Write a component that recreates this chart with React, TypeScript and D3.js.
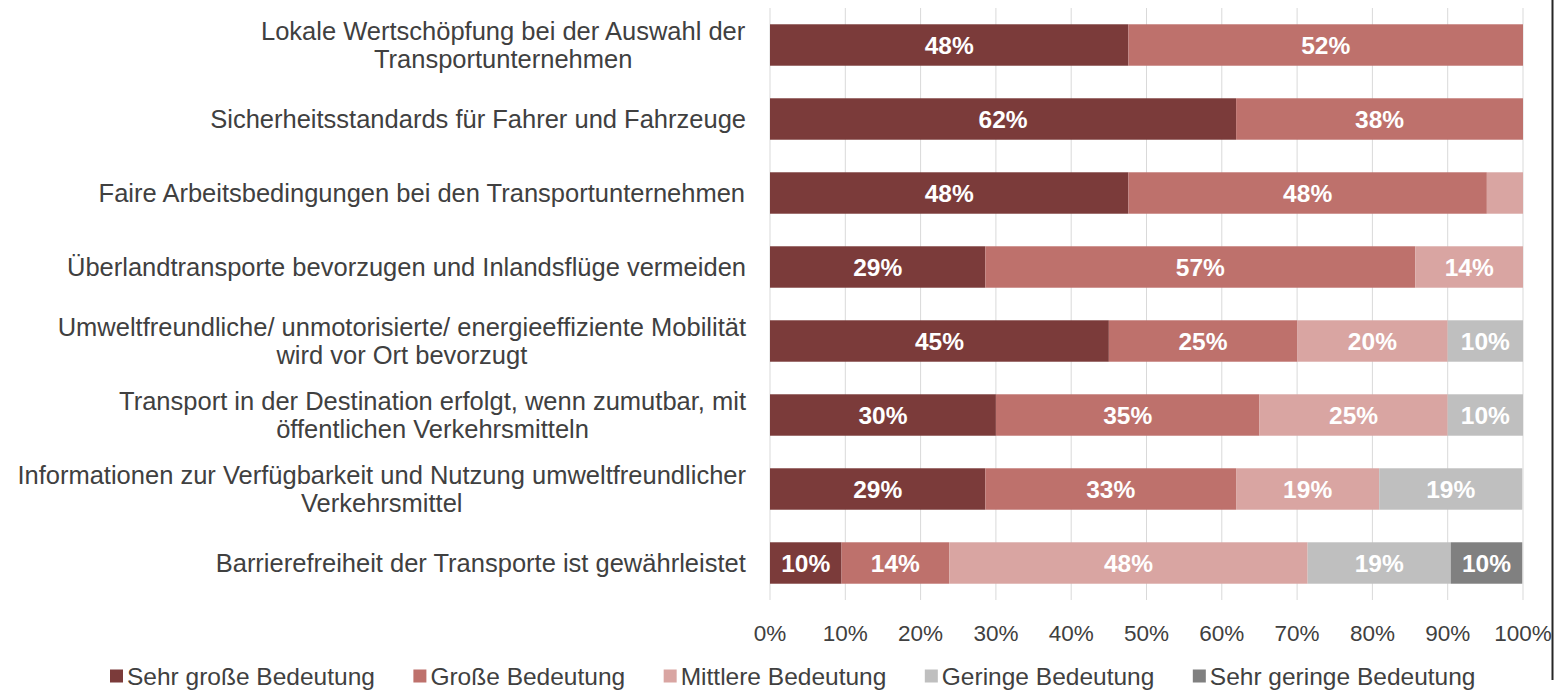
import { useMemo } from "react";
import * as d3 from "d3";

const categories = [
  ["Lokale Wertschöpfung bei der Auswahl der", "Transportunternehmen"],
  ["Sicherheitsstandards für Fahrer und Fahrzeuge"],
  ["Faire Arbeitsbedingungen bei den Transportunternehmen"],
  ["Überlandtransporte bevorzugen und Inlandsflüge vermeiden"],
  ["Umweltfreundliche/ unmotorisierte/ energieeffiziente Mobilität", "wird vor Ort bevorzugt"],
  ["Transport in der Destination erfolgt, wenn zumutbar, mit", "öffentlichen Verkehrsmitteln"],
  ["Informationen zur Verfügbarkeit und Nutzung umweltfreundlicher", "Verkehrsmittel"],
  ["Barrierefreiheit der Transporte ist gewährleistet"],
];

const seriesNames = [
  "Sehr große Bedeutung",
  "Große Bedeutung",
  "Mittlere Bedeutung",
  "Geringe Bedeutung",
  "Sehr geringe Bedeutung",
];

// shares in percent, one array per series, in category order
const sehrGross = [47.6, 61.9, 47.6, 28.6, 45, 30, 28.6, 9.5];
const gross = [52.4, 38.1, 47.6, 57.1, 25, 35, 33.3, 14.3];
const mittel = [0, 0, 4.8, 14.3, 20, 25, 19.0, 47.6];
const gering = [0, 0, 0, 0, 10, 10, 19.0, 19.0];
const sehrGering = [0, 0, 0, 0, 0, 0, 0, 9.5];

const colors = ["#7B3B3A", "#BE716C", "#D9A5A2", "#BFBFBF", "#808080"];
const xTicks = [0, 10, 20, 30, 40, 50, 60, 70, 80, 90, 100];

const W = 1555;
const H = 691;
const FONT = "'Liberation Sans', Arial, sans-serif";
const TEXT = "#404040";

function measure(text: string, size: number, weight = "normal") {
  const ctx = document.createElement("canvas").getContext("2d");
  if (!ctx) return text.length * size * 0.5;
  ctx.font = `${weight} ${size}px 'Liberation Sans', Arial, sans-serif`;
  return ctx.measureText(text).width;
}

export default function App() {
  const margin = { left: 770, right: 32, top: 8, bottom: 91 };

  const x = d3.scaleLinear().domain([0, 100]).range([margin.left, W - margin.right]);
  const y = d3
    .scaleBand<number>()
    .domain(d3.range(categories.length))
    .range([margin.top, H - margin.bottom])
    .paddingInner(0.44)
    .paddingOuter(0.22);

  const rows = useMemo(
    () =>
      categories.map((_, i) => {
        const vals = [sehrGross[i], gross[i], mittel[i], gering[i], sehrGering[i]];
        const ends = d3.cumsum(vals);
        return vals.map((v, k) => ({ v, k, x0: ends[k] - v, x1: ends[k] }));
      }),
    []
  );

  const labelSize = 25.5;
  const lineH = 28;
  const labelRight = 746;

  // legend layout
  const legendSize = 24.5;
  const legendItems = seriesNames.map((n) => ({ n, w: 17 + measure(n, legendSize) }));
  const gap = 38.5;
  let lx = 110;
  const legendPos = legendItems.map((d) => {
    const p = lx;
    lx += d.w + gap;
    return p;
  });

  return (
    <svg
      width={W}
      height={H}
      style={{ position: "absolute", left: 0, top: 0, background: "#fff" }}
      fontFamily={FONT}
    >
      {/* gridlines */}
      {xTicks.map((t) => (
        <line
          key={t}
          x1={x(t)}
          x2={x(t)}
          y1={margin.top}
          y2={H - margin.bottom}
          stroke="#D9D9D9"
          strokeWidth={1}
        />
      ))}

      {/* bars */}
      {rows.map((segs, i) =>
        segs
          .filter((s) => s.v > 0)
          .map((s) => (
            <rect
              key={`${i}-${s.k}`}
              x={x(s.x0)}
              y={y(i)}
              width={x(s.x1) - x(s.x0)}
              height={y.bandwidth()}
              fill={colors[s.k]}
            />
          ))
      )}

      {/* value labels */}
      {rows.map((segs, i) =>
        segs
          .filter((s) => s.v >= 6)
          .map((s) => (
            <text
              key={`l-${i}-${s.k}`}
              x={(x(s.x0) + x(s.x1)) / 2}
              y={(y(i) ?? 0) + y.bandwidth() / 2}
              dy="0.36em"
              textAnchor="middle"
              fill="#fff"
              fontWeight="bold"
              fontSize={24.5}
            >
              {Math.round(s.v)}%
            </text>
          ))
      )}

      {/* category labels */}
      {categories.map((lines, i) => {
        const widths = lines.map((l) => measure(l, labelSize));
        const maxW = d3.max(widths) ?? 0;
        const cx = labelRight - maxW / 2;
        const cy = (y(i) ?? 0) + y.bandwidth() / 2;
        const startY = cy - ((lines.length - 1) * lineH) / 2;
        return (
          <text key={`c-${i}`} fill={TEXT} fontSize={labelSize} textAnchor="middle">
            {lines.map((l, j) => (
              <tspan key={j} x={cx} y={startY + j * lineH} dy="0.36em">
                {l}
              </tspan>
            ))}
          </text>
        );
      })}

      {/* x axis ticks */}
      {xTicks.map((t) => (
        <text
          key={`t-${t}`}
          x={x(t)}
          y={633}
          dy="0.36em"
          textAnchor="middle"
          fill={TEXT}
          fontSize={22.5}
        >
          {t}%
        </text>
      ))}

      {/* legend */}
      {legendItems.map((d, i) => (
        <g key={d.n} transform={`translate(${legendPos[i]},676)`}>
          <rect x={0} y={-6.5} width={13} height={13} fill={colors[i]} />
          <text x={17} dy="0.36em" fill={TEXT} fontSize={legendSize}>
            {d.n}
          </text>
        </g>
      ))}

      {/* right border */}
      <line x1={1552.5} x2={1552.5} y1={0} y2={680} stroke="#262626" strokeWidth={2} />
    </svg>
  );
}
